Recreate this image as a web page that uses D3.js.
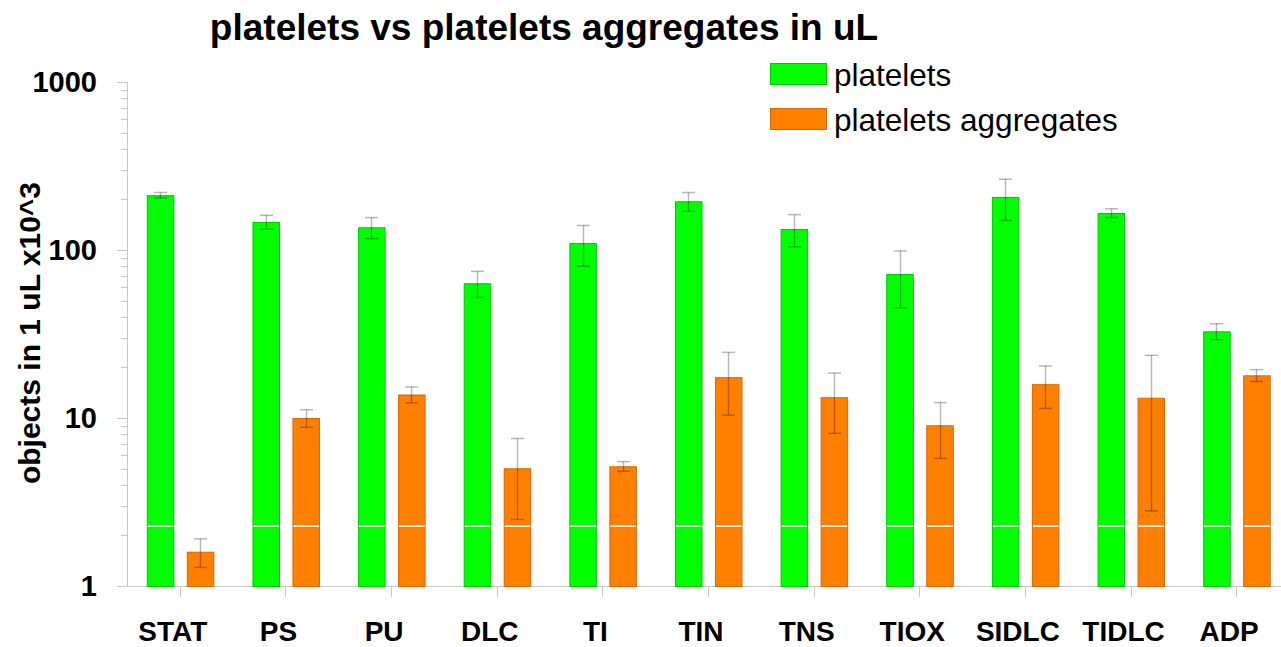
<!DOCTYPE html>
<html>
<head>
<meta charset="utf-8">
<script src="https://cdn.jsdelivr.net/npm/d3@7"></script>
<style>
  body { margin: 0; background: #fff; }
  svg { display: block; font-family: "Liberation Sans", Arial, sans-serif; }
</style>
</head>
<body>
<div id="chart"></div>
<script>
// data
var categories = ["STAT", "PS", "PU", "DLC", "TI", "TIN", "TNS", "TIOX", "SIDLC", "TIDLC", "ADP"];
var plateletsMean = [212, 147, 136.5, 63.4, 110, 195, 133.4, 72, 207, 166, 32.8];
var plateletsErr  = [8, 14, 19.5, 11.2, 30, 25, 29, 26.7, 57, 10, 3.6];
var aggregatesMean = [1.6, 10.0, 13.8, 5.02, 5.16, 17.5, 13.3, 9.05, 15.9, 13.2, 17.95];
var aggregatesErr  = [0.31, 1.2, 1.5, 2.53, 0.34, 7.1, 5.2, 3.3, 4.5, 10.4, 1.45];
var seriesNames = ["platelets", "platelets aggregates"];
var yTicks = [1, 10, 100, 1000];
var whiteLineValue = 2.27;

var width = 1281, height = 647;
var svg = d3.select("#chart").append("svg")
  .attr("width", width).attr("height", height);

var y = d3.scaleLog().domain([1, 1000]).range([586, 82]);
var x = d3.scaleBand().domain(categories).range([127, 1289]);

var colors = ["#00ff00", "#ff8000"];
var strokes = ["#00c800", "#d46a00"];

// y axis
var ya = svg.append("g");
ya.append("line").attr("x1", 127.5).attr("x2", 127.5)
  .attr("y1", y(1000)).attr("y2", y(1)).attr("stroke", "#c8c8c8");
var minor = [];
for (var d = 1; d < 1000; d *= 10) for (var k = 2; k <= 9; k++) minor.push(d * k);
ya.selectAll(".mn").data(minor).enter().append("line")
  .attr("x1", 121).attr("x2", 128)
  .attr("y1", function(v){ return Math.round(y(v)) + 0.5; })
  .attr("y2", function(v){ return Math.round(y(v)) + 0.5; })
  .attr("stroke", "#c8c8c8");
ya.selectAll(".mj").data(yTicks).enter().append("line")
  .attr("x1", 117).attr("x2", 128)
  .attr("y1", function(v){ return Math.round(y(v)) + 0.5; })
  .attr("y2", function(v){ return Math.round(y(v)) + 0.5; })
  .attr("stroke", "#c8c8c8");
ya.selectAll("text").data(yTicks).enter().append("text")
  .attr("x", 97).attr("y", function(v){ return y(v); })
  .attr("dy", "0.36em").attr("text-anchor", "end")
  .attr("font-size", 29).attr("font-weight", "bold")
  .text(function(v){ return v; });

// x axis
svg.append("line").attr("x1", 117).attr("x2", width)
  .attr("y1", 586.5).attr("y2", 586.5).attr("stroke", "#c8c8c8");
svg.selectAll(".xt").data(categories).enter().append("line")
  .attr("x1", function(c){ return Math.round(x(c) + x.bandwidth()/2) + 0.5; })
  .attr("x2", function(c){ return Math.round(x(c) + x.bandwidth()/2) + 0.5; })
  .attr("y1", 586).attr("y2", 597).attr("stroke", "#c8c8c8");
svg.selectAll(".xl").data(categories).enter().append("text")
  .attr("x", function(c){ return x(c) + x.bandwidth()/2 - 7; })
  .attr("y", 641).attr("text-anchor", "middle")
  .attr("font-size", 28).attr("font-weight", "bold")
  .text(function(c){ return c; });

// bars
var series = [
  { means: plateletsMean, errs: plateletsErr, off: -33 },
  { means: aggregatesMean, errs: aggregatesErr, off: 7 }
];
var bw = 26.5;
series.forEach(function(s, si) {
  var g = svg.append("g");
  categories.forEach(function(c, i) {
    var cx = x(c) + x.bandwidth()/2;
    var x0 = cx + s.off;
    var top = y(s.means[i]);
    g.append("rect").attr("x", x0 + 0.5).attr("y", top + 0.5)
      .attr("width", bw).attr("height", y(1) - top)
      .attr("fill", colors[si]).attr("stroke", strokes[si]).attr("stroke-width", 1);
    g.append("line").attr("x1", x0 + 1).attr("x2", x0 + bw)
      .attr("y1", y(whiteLineValue)).attr("y2", y(whiteLineValue))
      .attr("stroke", "#fff").attr("stroke-width", 1.5);
    var ex = Math.round(x0 + bw/2) + 0.5;
    var hi = y(s.means[i] + s.errs[i]), lo = y(s.means[i] - s.errs[i]);
    var eg = g.append("g").attr("stroke", "#000").attr("stroke-opacity", 0.28).attr("stroke-width", 1.5);
    eg.append("line").attr("x1", ex).attr("x2", ex).attr("y1", hi).attr("y2", lo);
    eg.append("line").attr("x1", ex - 6.5).attr("x2", ex + 6.5).attr("y1", hi).attr("y2", hi);
    eg.append("line").attr("x1", ex - 6.5).attr("x2", ex + 6.5).attr("y1", lo).attr("y2", lo);
  });
});

// title and axis label
svg.append("text").attr("x", 544).attr("y", 40).attr("text-anchor", "middle")
  .attr("font-size", 37).attr("font-weight", "bold")
  .text("platelets vs platelets aggregates in uL");
svg.append("text").attr("transform", "translate(40,333) rotate(-90)")
  .attr("text-anchor", "middle").attr("font-size", 30).attr("font-weight", "bold")
  .text("objects in 1 uL x10^3");

// legend
var lg = svg.append("g");
seriesNames.forEach(function(n, i) {
  lg.append("rect").attr("x", 770.5).attr("y", 63.5 + i * 45)
    .attr("width", 56).attr("height", 21)
    .attr("fill", colors[i]).attr("stroke", strokes[i]);
  lg.append("text").attr("x", 834).attr("y", 86 + i * 45)
    .attr("font-size", 31.5).text(n);
});
</script>
</body>
</html>
